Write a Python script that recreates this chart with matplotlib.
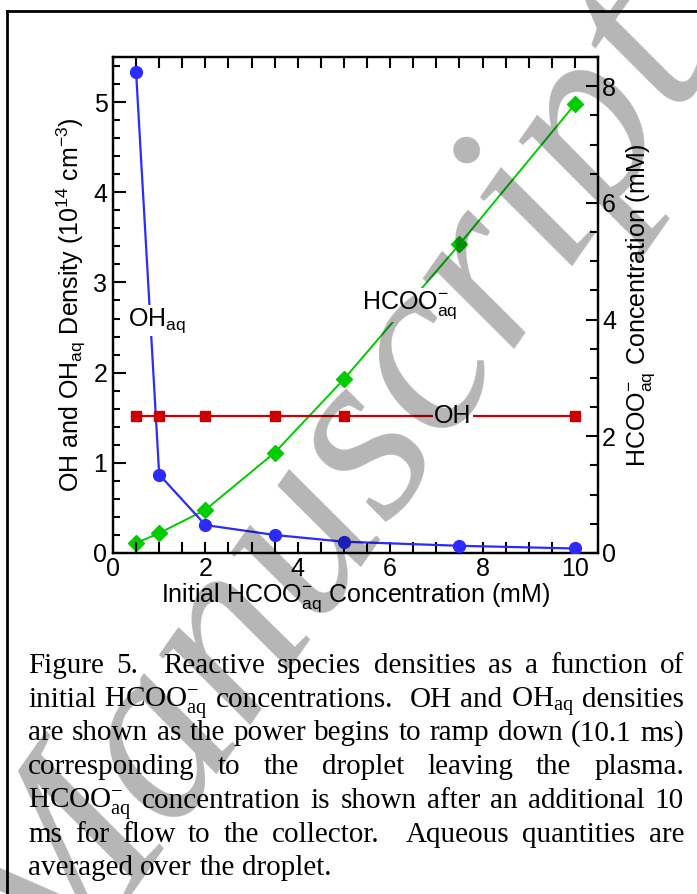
import numpy as np
import matplotlib.pyplot as plt
from matplotlib.lines import Line2D
from matplotlib.ticker import MultipleLocator

plt.rcParams['font.family'] = ['Liberation Sans', 'DejaVu Sans']
plt.rcParams['mathtext.default'] = 'regular'

# initial formate concentration (mM)
conc = [0.5, 1, 2, 3.5, 5, 7.5, 10]
# densities in 1e14 cm^-3
oh_aq = [5.33, 0.87, 0.31, 0.20, 0.125, 0.08, 0.05]
oh_gas = [1.52, 1.52, 1.52, 1.52, 1.52, 1.52, 1.52]
# HCOO-_aq after 10 ms more flow (mM)
hcoo = [0.17, 0.34, 0.74, 1.72, 2.98, 5.29, 7.69]

caption = [
    "Figure 5.  Reactive species densities as a function of",
    "initial HCOO$^{-}_{aq}$ concentrations.  OH and OH$_{aq}$ densities",
    "are shown as the power begins to ramp down (10.1 ms)",
    "corresponding to the droplet leaving the plasma.",
    "HCOO$^{-}_{aq}$ concentration is shown after an additional 10",
    "ms for flow to the collector.  Aqueous quantities are",
    "averaged over the droplet.",
]

W, H = 697, 894
fig = plt.figure(figsize=(W/100, H/100), dpi=100)
ax = fig.add_axes([113/W, 1-553/H, 485/W, 496/H])
ax2 = ax.twinx()

blue = '#2b2bff'
red = '#cc0000'
green = '#00cc00'

ax.plot(conc, oh_aq, '-o', color=blue, lw=1.6, ms=8.5, zorder=3)
ax.plot(conc, oh_gas, '-s', color=red, lw=1.6, ms=7, zorder=3)
ax2.plot(conc, hcoo, '-D', color=green, lw=1.4, ms=8, zorder=3)

ax.set_xlim(0, 10.5)
ax.set_ylim(0, 5.5)
ax2.set_ylim(0, 8.5)

tfs = 18
ax.xaxis.set_major_locator(MultipleLocator(2))
ax.xaxis.set_minor_locator(MultipleLocator(0.5))
ax.yaxis.set_major_locator(MultipleLocator(1))
ax.yaxis.set_minor_locator(MultipleLocator(0.2))
ax2.yaxis.set_major_locator(MultipleLocator(2))
ax2.yaxis.set_minor_locator(MultipleLocator(0.5))

ax.tick_params(axis='both', which='both', direction='in', width=1.5, labelsize=tfs)
ax.tick_params(axis='x', which='major', length=8, pad=3, top=True)
ax.tick_params(axis='x', which='minor', length=8, top=True)
ax.tick_params(axis='y', which='major', length=9, pad=4, right=False)
ax.tick_params(axis='y', which='minor', length=5, right=False)
ax2.tick_params(axis='y', which='both', direction='in', width=1.5, labelsize=tfs)
ax2.tick_params(axis='y', which='major', length=9, pad=3)
ax2.tick_params(axis='y', which='minor', length=6)
for a in (ax, ax2):
    for s in a.spines.values():
        s.set_linewidth(1.6)

lfs = 18
ax.set_xlabel("Initial HCOO$^{-}_{aq}$ Concentration (mM)", fontsize=lfs, labelpad=0.5)
ax.set_ylabel("OH and OH$_{aq}$ Density (10$^{14}$ cm$^{-3}$)", fontsize=lfs, labelpad=4)
ax2.set_ylabel("HCOO$^{-}_{aq}$ Concentration (mM)", fontsize=lfs, labelpad=6)

box = dict(facecolor='white', edgecolor='none', pad=1)
ax.text(0.33, 2.52, "OH$_{aq}$", fontsize=lfs, ha='left', va='baseline', bbox=box, zorder=4)
ax.text(5.38, 2.71, "HCOO$^{-}_{aq}$", fontsize=lfs, ha='left', va='baseline', bbox=box, zorder=4)
ax.text(6.95, 1.52, "OH", fontsize=lfs, ha='left', va='center', bbox=box, zorder=4)
ax2.set_zorder(ax.get_zorder() - 1)
ax.patch.set_visible(False)

# page frame
fig.add_artist(Line2D([7/W, 7/W], [0, 1-11/H], color='black', lw=2))
fig.add_artist(Line2D([7/W, 1], [1-11/H, 1-11/H], color='black', lw=2))

# justified caption
renderer = fig.canvas.get_renderer()
cap_kw = dict(family=['Liberation Serif', 'DejaVu Serif'], fontsize=21)
x0, x1 = 28, 684
y_first, dy = 673, 33.7

def width_of(s):
    t = fig.text(0, 0, s, **cap_kw)
    w = t.get_window_extent(renderer).width
    t.remove()
    return w

space = width_of("a b") - width_of("ab")
for i, line in enumerate(caption):
    y = 1 - (y_first + i*dy)/H
    tokens = line.split(' ')
    words, gaps = [], []
    n_sp = 0
    for tok in tokens:
        if tok == '':
            n_sp += 1
            continue
        if words:
            gaps.append(n_sp + 1)
        words.append(tok)
        n_sp = 0
    widths = [width_of(w) for w in words]
    if i == len(caption) - 1:
        unit = space
    else:
        unit = (x1 - x0 - sum(widths)) / sum(gaps)
    x = x0
    for j, w in enumerate(words):
        fig.text(x/W, y, w, ha='left', va='baseline', **cap_kw)
        x += widths[j]
        if j < len(gaps):
            x += gaps[j]*unit

# watermark
fig.text(338/W, 1-500/H, "Manuscript", family=['Liberation Serif'], style='italic',
         fontsize=180, color='black', alpha=0.29, rotation=55,
         ha='center', va='center', rotation_mode='anchor', zorder=20)

fig.savefig('out.png', dpi=100)
